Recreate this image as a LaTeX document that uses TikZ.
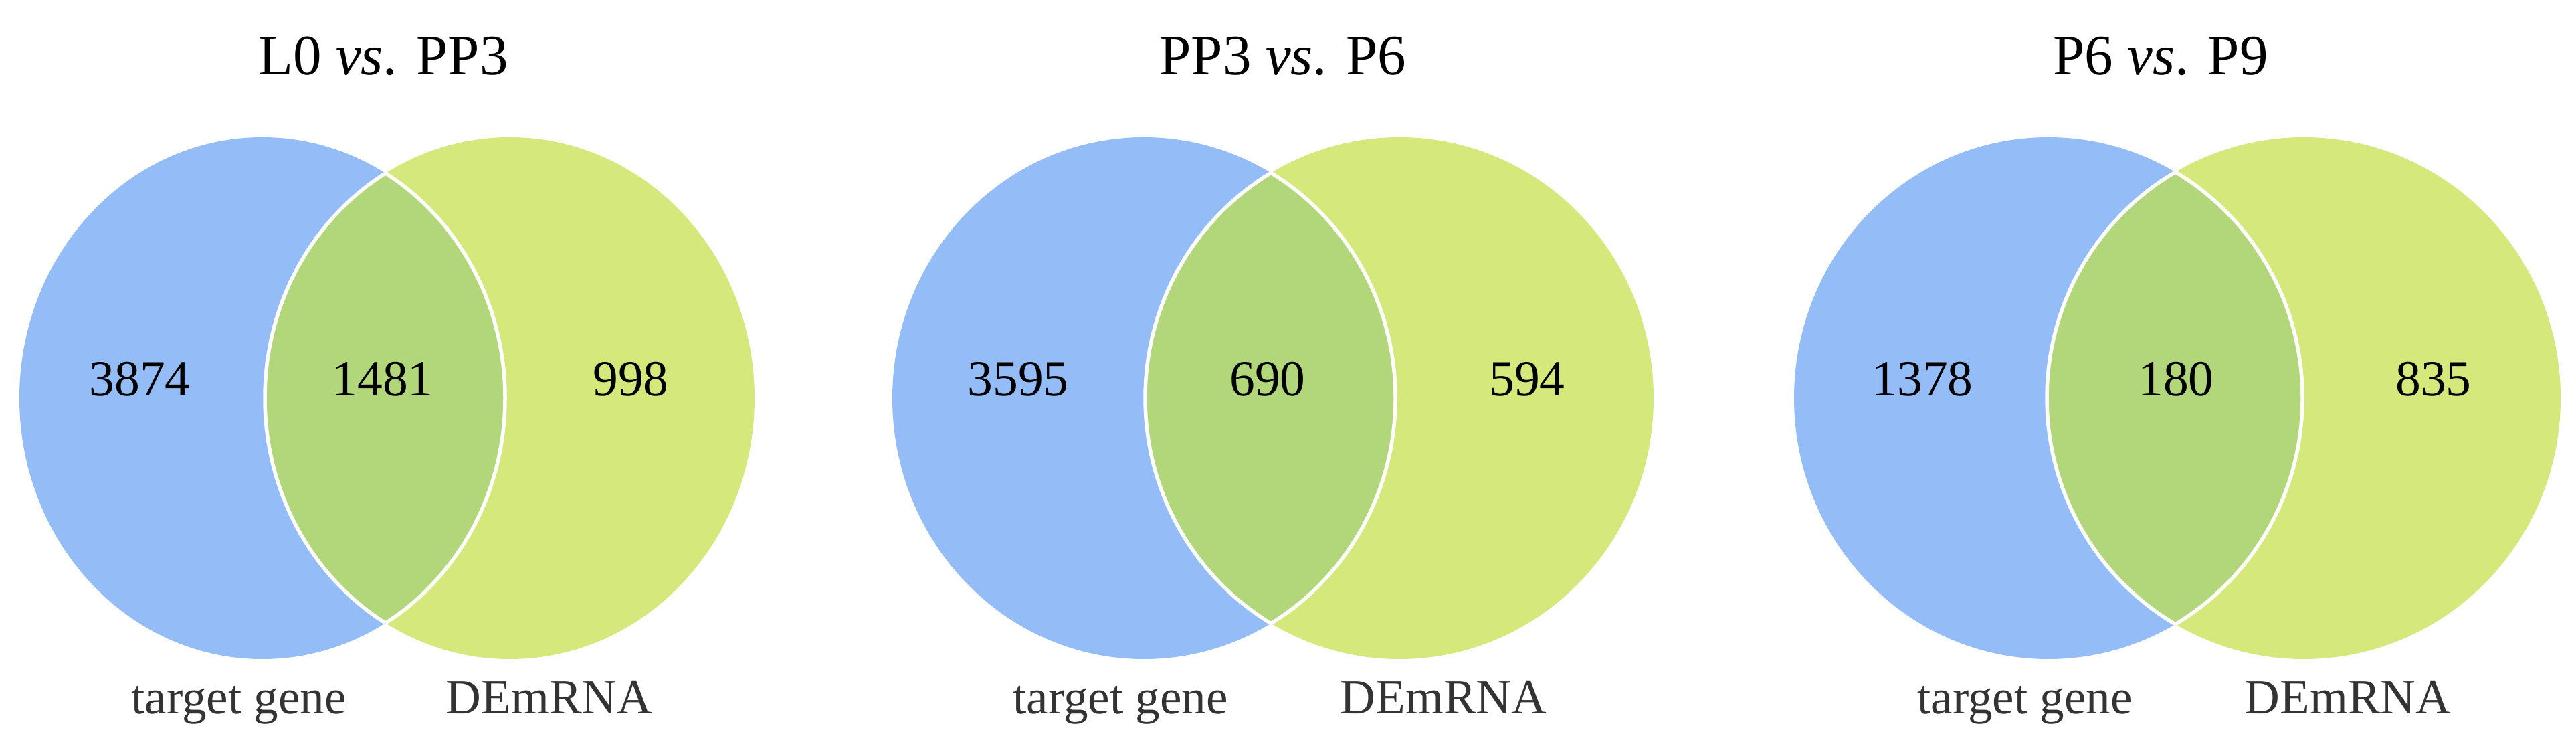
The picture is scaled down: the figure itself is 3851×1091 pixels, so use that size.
\documentclass[tikz,border=0pt]{standalone}
\usepackage{fontspec}
\setmainfont{Liberation Serif}
\definecolor{vblue}{HTML}{94BDF7}
\definecolor{vgreen}{HTML}{D4E87C}
\definecolor{vlens}{HTML}{B2D67A}
\definecolor{vlabel}{HTML}{333333}
\tikzset{
  titletext/.style={font=\fontsize{24.2}{29}\selectfont, text=black, inner sep=0pt, anchor=base},
  numtext/.style={font=\fontsize{21.5}{25}\selectfont, text=black, inner sep=0pt, anchor=base},
  labtext/.style={font=\fontsize{20.8}{25}\selectfont, text=vlabel, inner sep=0pt, anchor=base},
  lensline/.style={draw=white, line width=0.55mm}
}
% #1 blue cx, #2 blue rx, #3 green cx, #4 green rx (all in px = 0.1mm)
\newcommand\vennpair[4]{%
  \fill[vblue] (#1*0.1mm,-59.5mm) ellipse [x radius=#2*0.1mm, y radius=39mm];
  \fill[vgreen] (#3*0.1mm,-59.5mm) ellipse [x radius=#4*0.1mm, y radius=39mm];
  \begin{scope}
    \clip (#1*0.1mm,-59.5mm) ellipse [x radius=#2*0.1mm, y radius=39mm];
    \fill[vlens] (#3*0.1mm,-59.5mm) ellipse [x radius=#4*0.1mm, y radius=39mm];
    \draw[lensline] (#3*0.1mm,-59.5mm) ellipse [x radius=#4*0.1mm, y radius=39mm];
  \end{scope}
  \begin{scope}
    \clip (#3*0.1mm,-59.5mm) ellipse [x radius=#4*0.1mm, y radius=39mm];
    \draw[lensline] (#1*0.1mm,-59.5mm) ellipse [x radius=#2*0.1mm, y radius=39mm];
  \end{scope}
}
\begin{document}
\begin{tikzpicture}[x=0.1mm,y=-0.1mm]
\useasboundingbox[fill=white] (0,0) rectangle (3851,1091);
% panel 1
\vennpair{392}{363}{762}{366}
\node[titletext] (t1) at (573,112) {L0 \textit{vs}. PP3};
\node[numtext] (a1) at (209,592) {3874};
\node[numtext] (b1) at (572,592) {1481};
\node[numtext] (c1) at (943,592) {998};
\node[labtext] (g1) at (357,1066) {target gene};
\node[labtext] (d1) at (821,1066) {DEmRNA};
% panel 2
\vennpair{1710}{376}{2092}{380}
\node[titletext] (t2) at (1918,112) {PP3 \textit{vs}. P6};
\node[numtext] (a2) at (1522,592) {3595};
\node[numtext] (b2) at (1895,592) {690};
\node[numtext] (c2) at (2283,592) {594};
\node[labtext] (g2) at (1675,1066) {target gene};
\node[labtext] (d2) at (2158,1066) {DEmRNA};
% panel 3
\vennpair{3062}{380}{3444}{384}
\node[titletext] (t3) at (3230,112) {P6 \textit{vs}. P9};
\node[numtext] (a3) at (2874,592) {1378};
\node[numtext] (b3) at (3253,592) {180};
\node[numtext] (c3) at (3638,592) {835};
\node[labtext] (g3) at (3027,1066) {target gene};
\node[labtext] (d3) at (3510,1066) {DEmRNA};
\end{tikzpicture}
\end{document}
